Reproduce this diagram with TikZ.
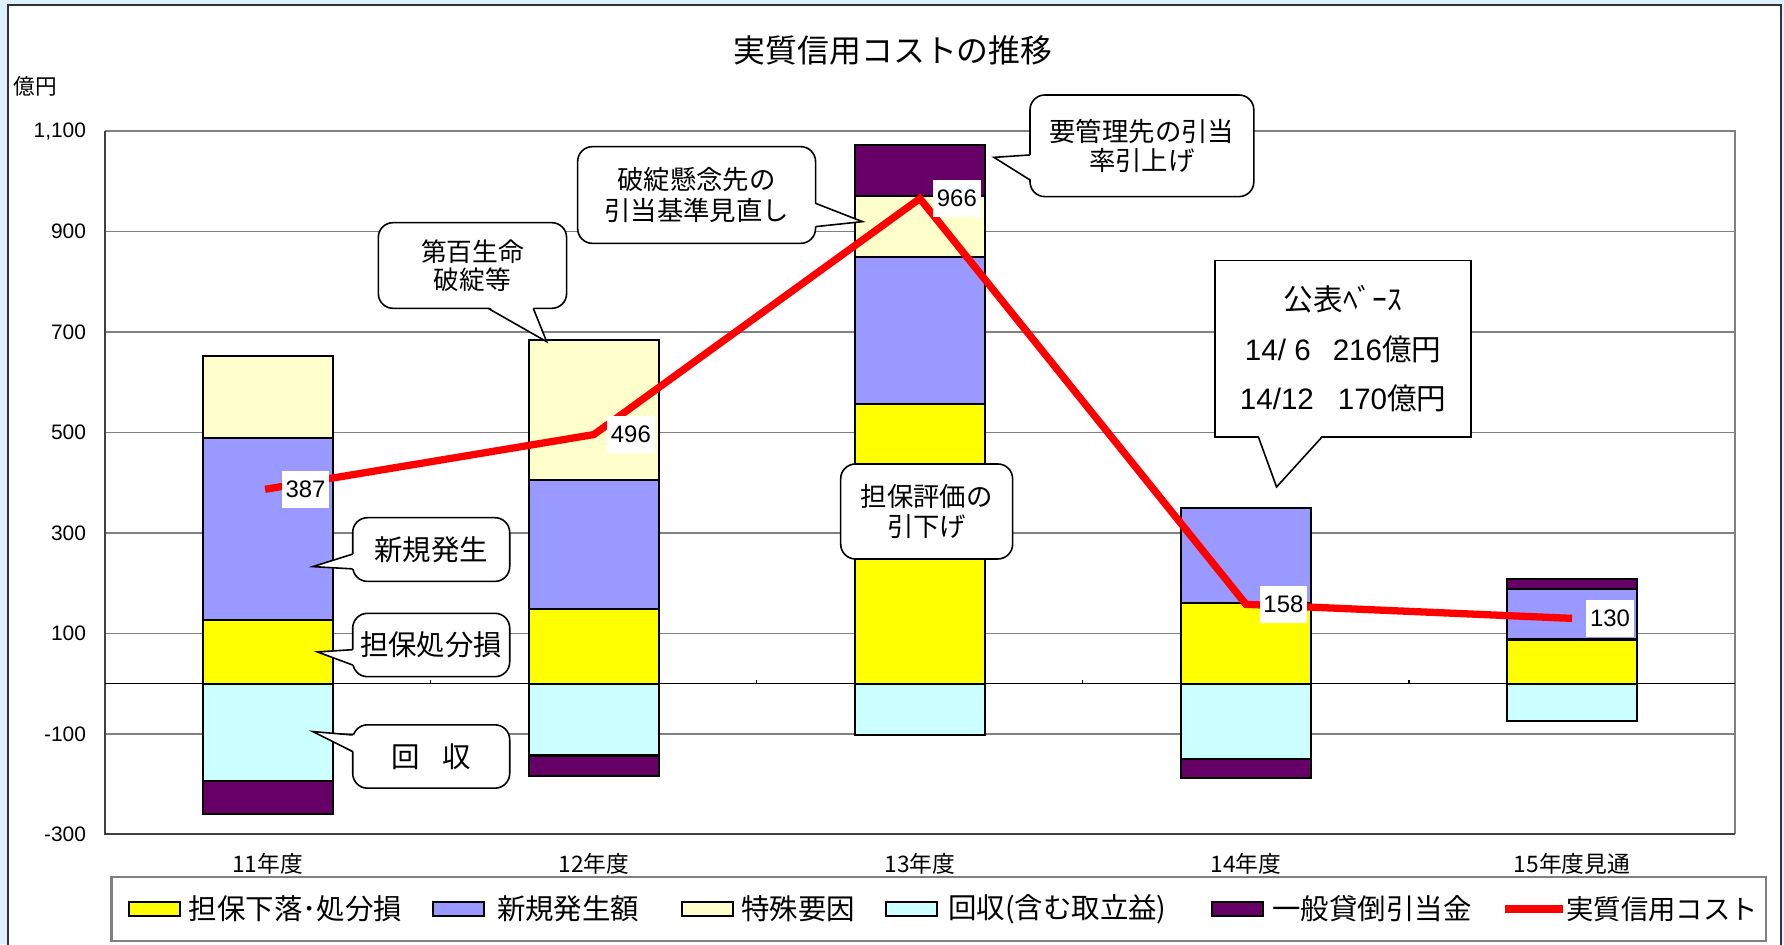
\documentclass[tikz,border=0pt]{standalone}
\usepackage{fontspec}
\setmainfont{Noto Sans CJK JP}
\newfontfamily\arial{Liberation Sans}
\usetikzlibrary{calc}
\definecolor{bgblue}{RGB}{220,240,255}
\definecolor{cYel}{RGB}{255,255,0}
\definecolor{cBlu}{RGB}{153,153,255}
\definecolor{cLye}{RGB}{255,255,204}
\definecolor{cCya}{RGB}{204,255,255}
\definecolor{cPur}{RGB}{102,0,102}
\definecolor{gridgray}{RGB}{128,128,128}
\newcommand\stackseg[4]{\filldraw[barseg,fill=#4] (#1-57,#2) rectangle (#1+57,#3);}
\newcommand\ptrtri[4]{\fill[white] ($(#1)+#4$) -- (#3) -- ($(#2)+#4$) -- cycle;
  \draw[ptr] (#1) -- (#3) -- (#2);}
\begin{document}
\begin{tikzpicture}[x=0.5pt,y=-0.5pt,
  barseg/.style={draw=black,line width=0.9pt},
  gridline/.style={draw=gridgray,line width=0.6pt},
  callbox/.style={draw=black,fill=white,line width=0.7pt,rounded corners=6.5pt,inner sep=0pt,align=center},
  rectbox/.style={draw=black,fill=white,line width=0.7pt,inner sep=0pt,align=center},
  ptr/.style={draw=black,line width=0.7pt,line join=miter},
  datalab/.style={fill=white,inner sep=0pt,minimum width=21pt,minimum height=16.5pt,font=\arial\fontsize{10.5}{12}\selectfont},
  ticklab/.style={anchor=east,inner sep=0pt,font=\arial\fontsize{9.2}{11}\selectfont},
  catlab/.style={inner sep=0pt,font=\fontsize{10}{12}\selectfont},
  legtxt/.style={anchor=west,inner sep=0pt,font=\fontsize{12.5}{14}\selectfont},
  legsw/.style={draw=black,line width=0.9pt,minimum width=22.5pt,minimum height=6.5pt,inner sep=0pt},
  costline/.style={red,line width=3.2pt},
]
\useasboundingbox (0,0) rectangle (1568,830);
\fill[bgblue] (0,0) rectangle (1568,830);
\draw[fill=white,draw=black!80,line width=0.8pt] (7,4.5) rectangle (1565,845);

\node[font=\fontsize{14}{16}\selectfont,inner sep=0pt] (title) at (785,44) {実質信用コストの推移};
\node[font=\fontsize{9.5}{11}\selectfont,inner sep=0pt] (unit) at (31,76) {億円};

\begin{scope}[shift={(0,600.9)},yscale=-0.4414]
  \foreach \v in {900,700,...,-100} \draw[gridline] (92,\v) -- (1525,\v);
  \draw[draw=gridgray,line width=0.9pt] (92,1100) -- (1525,1100) -- (1525,-300);
  \draw[draw=black!75,line width=0.9pt] (92,1100) -- (92,-300) -- (1525,-300);
  \foreach \v/\t [count=\i] in {1100/{1,100},900/900,700/700,500/500,300/300,100/100,-100/-100,-300/-300}
    \node[ticklab] (tick\i) at (76,\v) {\t};
  \draw[black,line width=0.6pt] (92,0) -- (1525,0);
  \foreach \x in {378.6,665.2,951.8,1238.4} \draw[black,line width=0.5pt] (\x,0) -- (\x,8);
  % bar 1
  \stackseg{235.3}{0}{126}{cYel}
  \stackseg{235.3}{126}{489}{cBlu}
  \stackseg{235.3}{489}{652}{cLye}
  \stackseg{235.3}{0}{-193}{cCya}
  \stackseg{235.3}{-193}{-260}{cPur}
  % bar 2
  \stackseg{521.9}{0}{149}{cYel}
  \stackseg{521.9}{149}{405}{cBlu}
  \stackseg{521.9}{405}{684}{cLye}
  \stackseg{521.9}{0}{-143}{cCya}
  \stackseg{521.9}{-143}{-184}{cPur}
  % bar 3
  \stackseg{808.5}{0}{557}{cYel}
  \stackseg{808.5}{557}{849}{cBlu}
  \stackseg{808.5}{849}{971}{cLye}
  \stackseg{808.5}{971}{1073}{cPur}
  \stackseg{808.5}{0}{-102}{cCya}
  % bar 4
  \stackseg{1095.1}{0}{160}{cYel}
  \stackseg{1095.1}{160}{349}{cBlu}
  \stackseg{1095.1}{0}{-150}{cCya}
  \stackseg{1095.1}{-150}{-188}{cPur}
  % bar 5
  \stackseg{1381.7}{0}{88}{cYel}
  \stackseg{1381.7}{88}{188}{cBlu}
  \stackseg{1381.7}{188}{208}{cPur}
  \stackseg{1381.7}{0}{-75}{cCya}
  % cost line
  \coordinate (p1) at (233,387);
  \coordinate (p2) at (521.9,496);
  \coordinate (p3) at (808.5,966);
  \coordinate (p4) at (1095.1,158);
  \coordinate (p5) at (1381.7,130);
  \draw[costline] (p1) -- (p2) -- (p3) -- (p4) -- (p5);
  \node[datalab] (l1) at (268.5,387) {387};
  \node[datalab] (l2) at (554.5,496) {496};
  \node[datalab] (l3) at (841,966) {966};
  \node[datalab] (l4) at (1128,158) {158};
  \node[datalab] (l5) at (1415,130) {130};
\end{scope}

\node[catlab] (cat1) at (235.3,759.5) {11年度};
\node[catlab] (cat2) at (521.9,759.5) {12年度};
\node[catlab] (cat3) at (808.5,759.5) {13年度};
\node[catlab] (cat4) at (1095.1,759.5) {14年度};
\node[catlab] (cat5) at (1381.7,759.5) {15年度見通};

% callouts
\node[callbox,minimum width=69pt,minimum height=28pt,font=\fontsize{12.5}{14}\selectfont] (cb1) at (379,483) {新規発生};
\coordinate (cb1a) at (310,487); \coordinate (cb1b) at (310,500); \coordinate (cb1t) at (275,498);
\ptrtri{cb1a}{cb1b}{cb1t}{(1.5,0)}

\node[callbox,minimum width=69pt,minimum height=27.85pt,font=\fontsize{12.5}{14}\selectfont] (cb2) at (379,566.9) {担保処分損};
\coordinate (cb2a) at (310,571); \coordinate (cb2b) at (310,584.5); \coordinate (cb2t) at (279,573);
\ptrtri{cb2a}{cb2b}{cb2t}{(1.5,0)}

\node[callbox,minimum width=69pt,minimum height=27.85pt,font=\fontsize{12.5}{14}\selectfont] (cb3) at (379,664.9) {回\hspace{0.77em}収};
\coordinate (cb3a) at (310,646); \coordinate (cb3b) at (310,660.6); \coordinate (cb3t) at (275,643);
\ptrtri{cb3a}{cb3b}{cb3t}{(1.5,0)}

\node[callbox,minimum width=82.75pt,minimum height=37.65pt,font=\fontsize{11.3}{12.25}\selectfont] (cb4) at (415.25,233.35) {第百生命\\破綻等};
\coordinate (cb4a) at (429,271); \coordinate (cb4b) at (468.7,271); \coordinate (cb4t) at (480.5,300.3);
\ptrtri{cb4a}{cb4b}{cb4t}{(0,-1.5)}

\node[callbox,minimum width=104.55pt,minimum height=42.5pt,font=\fontsize{11.6}{13.65}\selectfont] (cb5) at (612.25,171.4) {破綻懸念先の\\引当基準見直し};
\coordinate (cb5a) at (716.8,178.7); \coordinate (cb5b) at (716.8,199.2); \coordinate (cb5t) at (758,194.8);
\ptrtri{cb5a}{cb5b}{cb5t}{(-1.5,0)}

\node[callbox,minimum width=98.35pt,minimum height=44.65pt,font=\fontsize{11.6}{12.75}\selectfont] (cb6) at (1003.65,128.15) {要管理先の引当\\率引上げ};
\coordinate (cb6a) at (905.3,136.2); \coordinate (cb6b) at (905.3,158.2); \coordinate (cb6t) at (873.6,138.3);
\ptrtri{cb6a}{cb6b}{cb6t}{(1.5,0)}

\node[callbox,minimum width=75.55pt,minimum height=41.75pt,font=\fontsize{11.6}{13.2}\selectfont] (cb7) at (814.45,449.55) {担保評価の\\引下げ};

\node[rectbox,minimum width=112.5pt,minimum height=77.5pt,font=\fontsize{13}{21.7}\selectfont] (cb8) at (1180.5,306.5)
  {公表ﾍﾞｰｽ\\{\arial 14/ 6}\hspace{9.7pt}{\arial 216}億円\\{\arial 14/12}\hspace{10.5pt}{\arial 170}億円};
\coordinate (cb8a) at (1106,384); \coordinate (cb8b) at (1162,384); \coordinate (cb8t) at (1122,428);
\ptrtri{cb8a}{cb8b}{cb8t}{(0,-1.5)}

% legend
\draw[draw=gridgray,line width=0.9pt,fill=white] (98,771) rectangle (1552,827);
\node[legsw,fill=cYel] (sw1) at (135.5,799) {};
\node[legtxt] (lt1) at (165.5,799) {担保下落･処分損};
\node[legsw,fill=cBlu] (sw2) at (403,799) {};
\node[legtxt] (lt2) at (436.5,799) {新規発生額};
\node[legsw,fill=cLye] (sw3) at (621.5,799) {};
\node[legtxt] (lt3) at (651,799) {特殊要因};
\node[legsw,fill=cCya] (sw4) at (801,799) {};
\node[legtxt] (lt4) at (833,799) {回収(含む取立益)};
\node[legsw,fill=cPur] (sw5) at (1087.5,799) {};
\node[legtxt] (lt5) at (1118,799) {一般貸倒引当金};
\coordinate (rl1) at (1323,799); \coordinate (rl2) at (1374,799);
\draw[costline] (rl1) -- (rl2);
\node[legtxt,font=\fontsize{12}{14}\selectfont] (lt6) at (1376.5,799) {実質信用コスト};
\end{tikzpicture}
\end{document}
